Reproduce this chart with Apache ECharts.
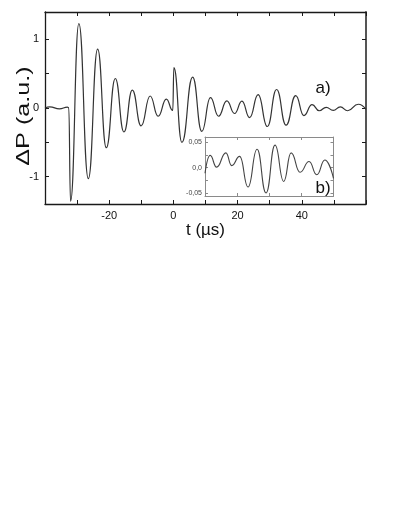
<!DOCTYPE html>
<html>
<head>
<meta charset="utf-8">
<script src="https://cdn.jsdelivr.net/npm/echarts@6/dist/echarts.min.js"></script>
<style>
  html, body { margin: 0; padding: 0; background: #fff; }
  #chart { width: 409px; height: 529px; }
</style>
</head>
<body>
<div id="chart"></div>
<script>
// main trace (a): time in µs, ΔP in a.u.
const tMain = [-40, -38.5, -35.5, -33, -32.6, -32.05, -29.45, -26.5, -23.6, -20.9, -18.1, -15.4, -12.8, -10.05,
  -7.25, -4.75, -2.2, -0.2, 0.15, 2.65, 6.0, 8.85, 11.55, 14.05, 16.65, 19.05, 21.35, 23.75, 26.4, 29.25,
  32.15, 35.1, 38.1, 40.65, 43.2, 45.4, 47.6, 49.8, 52, 54.3, 57.6, 60]
const pMain = [0, 0.015, -0.012, 0.012, 0.005, -1.36, 1.23, -1.03, 0.86, -0.58, 0.43, -0.35, 0.26, -0.26,
  0.175, -0.12, 0.13, -0.035, 0.59, -0.5, 0.45, -0.34, 0.15, -0.12, 0.105, -0.08, 0.1, -0.14, 0.195, -0.27,
  0.27, -0.25, 0.18, -0.11, 0.05, -0.04, 0.01, -0.035, 0.015, -0.04, 0.055, -0.02]

// inset trace (b)
const tInset = [0, 1.6, 3.6, 6.5, 8.3, 10.8, 13.4, 16.2, 19.0, 21.8, 24.5, 26.8, 29.6, 32.4, 34.8, 37.3, 40]
const pInset = [-0.011, 0.024, 0.001, 0.029, 0.004, 0.022, -0.038, 0.036, -0.0496, 0.044, -0.027, 0.029,
  -0.009, 0.012, -0.014, 0.015, -0.021]

const mainTicks = [-1, -0.5, 0, 0.5, 1]
const mainLabels = [-1, 0, 1]
const insetTicks = [-0.05, -0.025, 0, 0.025, 0.05]
const insetLabels = [-0.05, 0, 0.05]

const FONT = 'Liberation Sans, Arial, sans-serif'

const chart = echarts.init(document.getElementById('chart'))

const mainData = tMain.map((t, i) => [t, pMain[i]])
const insetData = tInset.map((t, i) => [t, pInset[i]])

const frameColor = '#1a1a1a'
const insetColor = '#8a8a8a'

function frameLine(color, width) {
  return { show: true, onZero: false, lineStyle: { color: color, width: width } }
}
function ticks(color, len, custom) {
  const t = { show: true, inside: true, length: len, lineStyle: { color: color, width: 1 } }
  if (custom) t.customValues = custom
  return t
}

chart.setOption({
  animation: false,
  backgroundColor: '#fff',
  grid: [
    { left: 45, top: 12, width: 321, height: 192, show: false, outerBoundsMode: 'none' },
    { left: 205, top: 137, width: 128.5, height: 59, show: true, borderWidth: 0, backgroundColor: '#fff', outerBoundsMode: 'none' }
  ],
  xAxis: [
    {
      gridIndex: 0, type: 'value', min: -40, max: 60, interval: 10, position: 'bottom',
      axisLine: frameLine(frameColor, 1.3),
      axisTick: ticks(frameColor, 4),
      splitLine: { show: false },
      axisLabel: {
        margin: 6, fontSize: 11, fontFamily: FONT, color: '#111',
        formatter: v => (v % 20 === 0 && v > -40 && v < 60) ? String(v) : ''
      },
      name: 't (\u00b5s)', nameLocation: 'middle', nameGap: 15,
      nameTextStyle: { fontSize: 17, fontFamily: FONT, color: '#111', verticalAlign: 'top' }
    },
    {
      gridIndex: 0, type: 'value', min: -40, max: 60, interval: 10, position: 'top',
      axisLine: frameLine(frameColor, 1.3),
      axisTick: ticks(frameColor, 4),
      splitLine: { show: false }, axisLabel: { show: false }
    },
    {
      gridIndex: 1, type: 'value', min: 0, max: 40, interval: 10, position: 'bottom',
      axisLine: frameLine(insetColor, 1),
      axisTick: ticks(insetColor, 3),
      splitLine: { show: false }, axisLabel: { show: false }
    },
    {
      gridIndex: 1, type: 'value', min: 0, max: 40, interval: 10, position: 'top',
      axisLine: frameLine(insetColor, 1),
      axisTick: ticks(insetColor, 3),
      splitLine: { show: false }, axisLabel: { show: false }
    }
  ],
  yAxis: [
    {
      gridIndex: 0, type: 'value', min: -1.4, max: 1.4, position: 'left',
      axisLine: frameLine(frameColor, 1.3),
      axisTick: ticks(frameColor, 4, mainTicks),
      splitLine: { show: false },
      axisLabel: { margin: 6, fontSize: 11, fontFamily: FONT, color: '#111', customValues: mainLabels }
    },
    {
      gridIndex: 0, type: 'value', min: -1.4, max: 1.4, position: 'right',
      axisLine: frameLine('#555', 2),
      axisTick: ticks(frameColor, 4, mainTicks),
      splitLine: { show: false }, axisLabel: { show: false }
    },
    {
      gridIndex: 1, type: 'value', min: -0.0555, max: 0.06, position: 'left',
      axisLine: frameLine(insetColor, 1),
      axisTick: ticks(insetColor, 3, insetTicks),
      splitLine: { show: false },
      axisLabel: {
        margin: 3, fontSize: 7, fontFamily: FONT, color: '#444', customValues: insetLabels,
        formatter: v => v === 0 ? '0,0' : v.toFixed(2).replace('.', ',')
      }
    },
    {
      gridIndex: 1, type: 'value', min: -0.0555, max: 0.06, position: 'right',
      axisLine: frameLine(insetColor, 1),
      axisTick: ticks(insetColor, 3, insetTicks),
      splitLine: { show: false }, axisLabel: { show: false }
    }
  ],
  series: [
    {
      type: 'line', xAxisIndex: 0, yAxisIndex: 0, data: mainData,
      showSymbol: false, smooth: 0.5, smoothMonotone: 'x',
      lineStyle: { color: '#333', width: 1.2 }, z: 3
    },
    {
      type: 'line', xAxisIndex: 2, yAxisIndex: 2, data: insetData,
      showSymbol: false, smooth: 0.5, smoothMonotone: 'x',
      lineStyle: { color: '#444', width: 1.1 }, z: 5
    }
  ],
  graphic: [
    {
      type: 'text', x: 24, y: 116, rotation: Math.PI / 2, scaleX: 1.4,
      style: { text: '\u0394P (a.u.)', font: '18px ' + FONT, fill: '#111', textAlign: 'center', textVerticalAlign: 'middle' }
    },
    {
      type: 'text', x: 323, y: 88,
      style: { text: 'a)', font: '17px ' + FONT, fill: '#111', textAlign: 'center', textVerticalAlign: 'middle' }
    },
    {
      type: 'text', x: 323, y: 188, z: 10,
      style: { text: 'b)', font: '17px ' + FONT, fill: '#111', textAlign: 'center', textVerticalAlign: 'middle' }
    }
  ]
})
</script>
</body>
</html>
